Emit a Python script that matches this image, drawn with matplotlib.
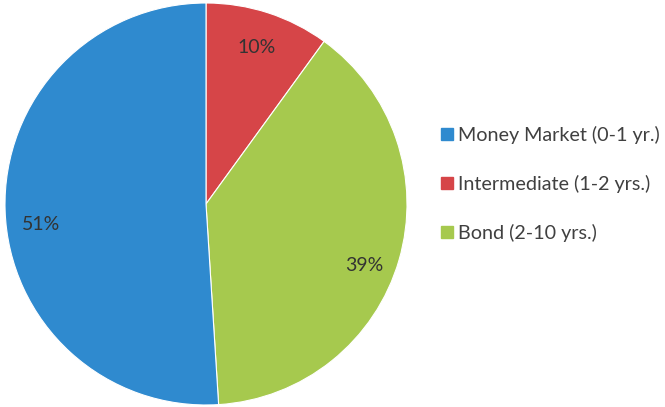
import matplotlib
matplotlib.use('Agg')
import matplotlib.pyplot as plt
from matplotlib.lines import Line2D

plt.rcParams['font.family'] = ['Lato', 'DejaVu Sans']

# Portfolio split by maturity bucket
categories = ['Money Market (0-1 yr.)', 'Intermediate (1-2 yrs.)', 'Bond (2-10 yrs.)']
shares = [51, 10, 39]
colors = ['#2F8ACF', '#D64548', '#A6C94E']

# Pie goes clockwise from 12 o'clock: Intermediate, Bond, then Money Market
order = [1, 2, 0]
pie_vals = [shares[i] for i in order]
pie_cols = [colors[i] for i in order]

W, H = 665, 407
fig = plt.figure(figsize=(W / 100, H / 100), dpi=100)

cx, cy, r = 206, 204, 201
ax = fig.add_axes([(cx - r) / W, (H - cy - r) / H, 2 * r / W, 2 * r / H])
wedges, texts, autotexts = ax.pie(
    pie_vals, colors=pie_cols, startangle=90, counterclock=False,
    autopct='%d%%', pctdistance=0.82, radius=1,
    wedgeprops=dict(edgecolor='white', linewidth=0.8),
    textprops=dict(color='#333333', fontsize=14))
# drop the two big-slice labels a little lower
for t in autotexts[1:]:
    x, y = t.get_position()
    t.set_position((x, y - 0.075))
ax.set_xlim(-1, 1)
ax.set_ylim(-1, 1)
ax.set_aspect('auto')
ax.axis('off')

handles = [Line2D([], [], marker='s', linestyle='none', markersize=8,
                  markerfacecolor=c, markeredgecolor=c) for c in colors]
fig.legend(handles, categories, loc='center left',
           bbox_to_anchor=(440 / W, (H - 184) / H),
           frameon=False, fontsize=14.2, labelcolor='#404040',
           handlelength=0.7, handletextpad=0.2, labelspacing=1.55,
           borderpad=0, borderaxespad=0)

fig.savefig('out.png', dpi=100)
